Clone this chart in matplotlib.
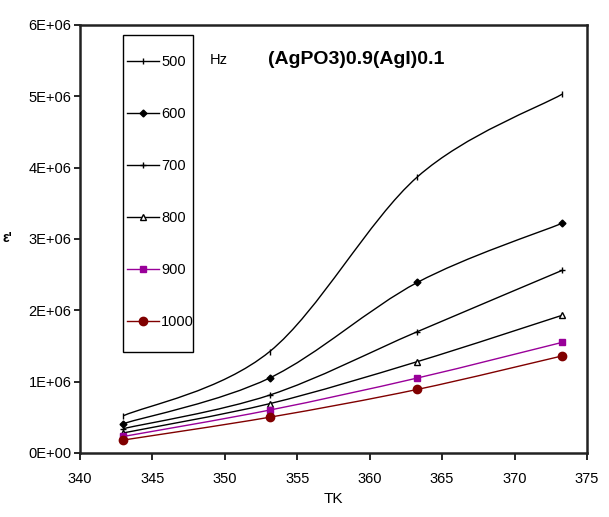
import matplotlib.pyplot as plt
import numpy as np
from matplotlib.path import Path
from matplotlib.patches import PathPatch, Rectangle
from matplotlib.lines import Line2D

plt.rcParams['font.family'] = ['Liberation Sans', 'DejaVu Sans']

temps = [343.0, 353.1, 363.3, 373.3]
freqs = ['500', '600', '700', '800', '900', '1000']
eps500 = [0.52e6, 1.42e6, 3.87e6, 5.03e6]
eps600 = [0.41e6, 1.05e6, 2.39e6, 3.22e6]
eps700 = [0.34e6, 0.81e6, 1.70e6, 2.56e6]
eps800 = [0.28e6, 0.69e6, 1.28e6, 1.93e6]
eps900 = [0.23e6, 0.60e6, 1.05e6, 1.55e6]
eps1000 = [0.18e6, 0.50e6, 0.89e6, 1.36e6]
series = [eps500, eps600, eps700, eps800, eps900, eps1000]
ytick_labels = ['0E+00', '1E+06', '2E+06', '3E+06', '4E+06', '5E+06', '6E+06']

styles = [
    dict(color='black', marker='|', ms=5, mfc='black'),
    dict(color='black', marker='D', ms=3.5, mfc='black'),
    dict(color='black', marker='+', ms=5, mfc='black'),
    dict(color='black', marker='^', ms=4, mfc='white'),
    dict(color='#990099', marker='s', ms=5, mfc='#990099'),
    dict(color='#800000', marker='o', ms=6, mfc='#800000'),
]


def smooth_path(xs, ys):
    # excel-like smoothed line: catmull-rom bezier segments
    pts = np.column_stack([xs, ys])
    n = len(pts)
    verts = [pts[0]]
    codes = [Path.MOVETO]
    for i in range(n - 1):
        p0 = pts[i - 1] if i > 0 else pts[i]
        p1 = pts[i]
        p2 = pts[i + 1]
        p3 = pts[i + 2] if i + 2 < n else pts[i + 1]
        c1 = p1 + (p2 - p0) / 6.0
        c2 = p2 - (p3 - p1) / 6.0
        verts += [c1, c2, p2]
        codes += [Path.CURVE4] * 3
    return Path(verts, codes)


fig = plt.figure(figsize=(6.09, 5.17), dpi=100)
ax = fig.add_axes([0.131, 0.124, 0.833, 0.828])

handles = []
for vals, st, lab in zip(series, styles, freqs):
    ax.add_patch(PathPatch(smooth_path(temps, vals), fill=False,
                           edgecolor=st['color'], lw=1.0))
    ax.plot(temps, vals, ls='none', marker=st['marker'], ms=st['ms'],
            color=st['color'], mfc=st['mfc'], mec=st['color'])
    handles.append(Line2D([], [], color=st['color'], lw=1.0, marker=st['marker'],
                          ms=st['ms'], mfc=st['mfc'], mec=st['color']))

ax.set_xlim(340, 375)
ax.set_ylim(0, 6e6)
ax.set_xticks(np.arange(340, 376, 5))
ax.set_yticks(np.arange(0, 6.1e6, 1e6))
ax.set_yticklabels(ytick_labels)
ax.tick_params(labelsize=10.5, width=1.2, direction='out')
ax.tick_params(axis='x', length=5, pad=9)
ax.tick_params(axis='y', length=4, pad=2)
for sp in ax.spines.values():
    sp.set_linewidth(1.8)
    sp.set_color('#222222')

ax.set_xlabel('TK', fontsize=11, labelpad=4)
fig.text(0.004, 0.54, "ε'", fontsize=10, fontweight='bold', ha='left', va='center')

# legend box drawn separately (taller than the entries need)
ax.add_patch(Rectangle((0.0848, 0.236), 0.138, 0.741, transform=ax.transAxes,
                       fill=True, facecolor='white', edgecolor='black', lw=1.0, zorder=4))
leg = ax.legend(handles, freqs, loc='upper left', bbox_to_anchor=(0.093, 0.929),
                fontsize=10.5, labelspacing=2.6, handlelength=2.2, handletextpad=0.15,
                borderpad=0, frameon=False, borderaxespad=0)
leg.set_zorder(5)

ax.text(0.256, 0.918, 'Hz', transform=ax.transAxes, fontsize=10.5, va='center')
ax.text(0.371, 0.918, '(AgPO3)0.9(AgI)0.1', transform=ax.transAxes, fontsize=14,
        fontweight='bold', va='center')

fig.savefig('out.png', dpi=100)
